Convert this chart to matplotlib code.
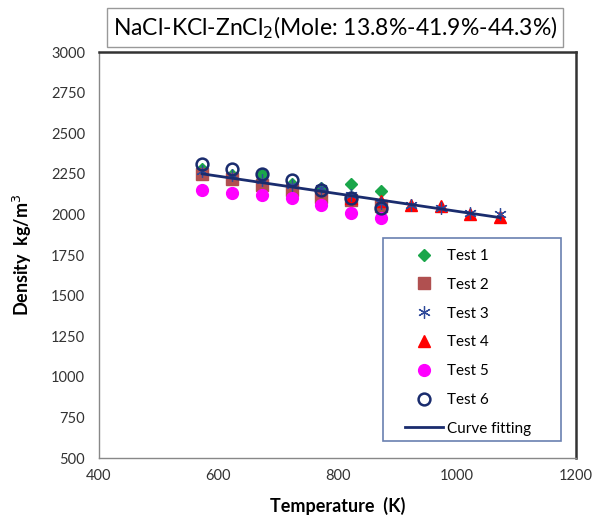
import matplotlib
matplotlib.use("Agg")
import matplotlib.pyplot as plt
from matplotlib.patches import Rectangle

plt.rcParams['font.family'] = ['Lato', 'DejaVu Sans']

# temperatures (K)
t_short = [573, 623, 673, 723, 773, 823, 873]
t_long = [573, 623, 673, 723, 773, 823, 873, 923, 973, 1023, 1073]
t_test4 = [823, 873, 923, 973, 1023, 1073]

# densities (kg/m3)
test1 = [2280, 2240, 2250, 2190, 2160, 2190, 2145]
test2 = [2250, 2220, 2180, 2150, 2110, 2090, 2050]
test3 = [2270, 2240, 2210, 2180, 2160, 2120, 2070, 2060, 2040, 2010, 2000]
test4 = [2100, 2080, 2060, 2050, 2000, 1985]
test5 = [2150, 2130, 2120, 2100, 2060, 2010, 1975]
test6 = [2310, 2280, 2250, 2210, 2150, 2100, 2040]

fit_t = [573, 1073]
fit_d = [2250, 1980]

fig = plt.figure(figsize=(5.98, 5.29), dpi=100)
ax = fig.add_axes([0.1656, 0.1342, 0.7976, 0.7675])

ax.plot(t_short, test1, 'D', color='#1aa64a', ms=6.5, label='Test 1', zorder=3)
ax.plot(t_short, test2, 's', color='#b05050', ms=8, label='Test 2', zorder=3)
ax.plot(t_long, test3, marker=(6, 2, 0), ls='none', color='#2f4a9a', ms=9,
        mew=0.9, label='Test 3', zorder=4)
ax.plot(t_test4, test4, '^', color='#ff0000', ms=8.5, label='Test 4', zorder=3)
ax.plot(t_short, test5, 'o', color='#ff00ff', ms=8.5, label='Test 5', zorder=3)
ax.plot(t_short, test6, 'o', mfc='none', mec='#1a2c6e', mew=1.8, ms=8.5,
        label='Test 6', zorder=4)
ax.plot(fit_t, fit_d, '-', color='#1a2c6e', lw=2, label='Curve fitting', zorder=5)

ax.set_xlim(400, 1200)
ax.set_ylim(500, 3000)
ax.set_xticks([400, 600, 800, 1000, 1200])
ax.set_yticks(range(500, 3001, 250))
ax.tick_params(axis='both', labelsize=10.5, colors='#333333', length=0, pad=8)
ax.tick_params(axis='y', pad=10)

for side in ['left', 'bottom']:
    ax.spines[side].set_color('#888888')
    ax.spines[side].set_linewidth(1)
for side in ['top', 'right']:
    ax.spines[side].set_color('#333333')
    ax.spines[side].set_linewidth(1.8)

ax.set_xlabel('Temperature  (K)', fontsize=13, fontweight='bold', labelpad=10)
ax.set_ylabel('Density  kg/m$^3$', fontsize=13, fontweight='bold', labelpad=12)

# legend box drawn separately so it can be wider than the entries
ax.add_patch(Rectangle((0.595, 0.042), 0.3736, 0.50, transform=ax.transAxes,
                       fc='white', ec='#6a80b0', lw=1.2, zorder=6))
leg = ax.legend(loc='upper left', bbox_to_anchor=(0.6415, 0.515), fontsize=11,
                frameon=False, handlelength=2.5, labelspacing=0.97,
                borderpad=0, handletextpad=0.25, borderaxespad=0)
leg.set_zorder(7)

fig.text(0.56, 0.948, 'NaCl-KCl-ZnCl$_2$(Mole: 13.8%-41.9%-44.3%)',
         ha='center', va='center', fontsize=16.5,
         bbox=dict(boxstyle='square,pad=0.25', fc='white', ec='#999999', lw=1))

fig.savefig('out.png', dpi=100)
